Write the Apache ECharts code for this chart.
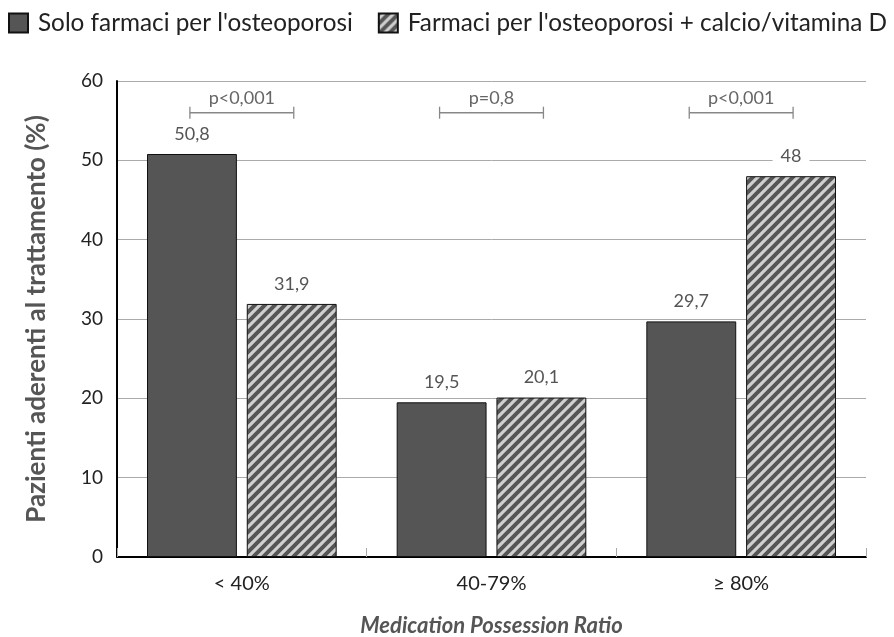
<!DOCTYPE html>
<html><head><meta charset="utf-8">
<script src="https://cdn.jsdelivr.net/npm/echarts@6/dist/echarts.min.js"></script>
<style>html,body{margin:0;padding:0;background:#fff}#c{width:894px;height:637px}</style>
</head><body><div id="c"></div>
<script>
var categories = ['< 40%', '40-79%', '≥ 80%'];
var soloFarmaci = [50.8, 19.5, 29.7];
var farmaciCalcio = [31.9, 20.1, 48];
var pValues = ['p<0,001', 'p=0,8', 'p<0,001'];
var bracketLevel = 56.0;
var seriesNames = ["Solo farmaci per l'osteoporosi", "Farmaci per l'osteoporosi + calcio/vitamina D"];

function hatch() {
  var s = 10, c = document.createElement('canvas');
  c.width = s; c.height = s;
  var g = c.getContext('2d');
  g.fillStyle = '#d0d0d0'; g.fillRect(0, 0, s, s);
  g.strokeStyle = '#555555'; g.lineWidth = 4;
  g.beginPath();
  g.moveTo(-s, s); g.lineTo(s, -s);
  g.moveTo(0, s * 2); g.lineTo(s * 2, 0);
  g.moveTo(-s, 2 * s); g.lineTo(2 * s, -s);
  g.stroke();
  return c;
}
var fmt = function (p) { return String(p.value).replace('.', ','); };
var chart = echarts.init(document.getElementById('c'));
var labelCfg = {
  show: true, position: 'top', distance: 10, formatter: fmt,
  color: '#555', fontFamily: 'Lato', fontSize: 18,
  backgroundColor: '#fff', padding: [1, 8]
};
chart.setOption({
  animation: false,
  textStyle: { fontFamily: 'Lato' },
  legend: {
    left: 3, top: 6, itemWidth: 19, itemHeight: 19, itemGap: 25, icon: 'rect',
    textStyle: { fontFamily: 'Lato', fontSize: 24.3, color: '#222', padding: [0, 0, 0, 5] },
    data: seriesNames
  },
  grid: { left: 117, right: 28, top: 81, bottom: 80, outerBoundsMode: 'none', containLabel: false },
  xAxis: {
    type: 'category', data: categories,
    axisLine: { lineStyle: { color: '#000', width: 2 } },
    axisTick: { show: true, inside: true, length: 9, lineStyle: { color: '#aaa' } },
    axisLabel: { color: '#222', fontSize: 20, margin: 17, fontFamily: 'Lato' },
    name: 'Medication Possession Ratio', nameLocation: 'middle', nameGap: 58,
    nameTextStyle: { fontFamily: 'Lato', fontSize: 22, fontWeight: 'bold', fontStyle: 'italic', color: '#555' }
  },
  yAxis: {
    type: 'value', min: 0, max: 60, interval: 10,
    axisLine: { show: true, lineStyle: { color: '#000', width: 2 } },
    axisTick: { show: false },
    splitLine: { lineStyle: { color: '#aaa', width: 1 } },
    axisLabel: { color: '#222', fontSize: 19, margin: 14, fontFamily: 'Lato' },
    name: 'Pazienti aderenti al trattamento (%)', nameLocation: 'middle', nameGap: 67,
    nameTextStyle: { fontFamily: 'Lato', fontSize: 26, fontWeight: 'bold', color: '#555' }
  },
  series: [
    {
      name: seriesNames[0], type: 'bar', data: soloFarmaci, barWidth: '36%', barGap: '11%',
      itemStyle: { color: '#555555', borderColor: '#111', borderWidth: 1 },
      label: labelCfg
    },
    {
      name: seriesNames[1], type: 'bar', data: farmaciCalcio, barWidth: '36%', barGap: '11%',
      itemStyle: { color: { image: hatch(), repeat: 'repeat' }, borderColor: '#111', borderWidth: 1 },
      label: labelCfg
    },
    {
      type: 'custom', silent: true, z: 5,
      data: pValues.map(function (p, i) { return [i, bracketLevel]; }),
      renderItem: function (params, api) {
        var pt = api.coord([api.value(0), api.value(1)]);
        var band = api.size([1, 0])[0];
        var h = band * 0.208;
        var ls = { stroke: '#888', lineWidth: 1.3 };
        return {
          type: 'group', children: [
            { type: 'line', shape: { x1: pt[0] - h, y1: pt[1], x2: pt[0] + h, y2: pt[1] }, style: ls },
            { type: 'line', shape: { x1: pt[0] - h, y1: pt[1] - 6, x2: pt[0] - h, y2: pt[1] + 6 }, style: ls },
            { type: 'line', shape: { x1: pt[0] + h, y1: pt[1] - 6, x2: pt[0] + h, y2: pt[1] + 6 }, style: ls },
            { type: 'text', x: pt[0], y: pt[1] - 15,
              style: { text: pValues[params.dataIndex], fill: '#666', font: '18px Lato', align: 'center', verticalAlign: 'middle' } }
          ]
        };
      }
    }
  ]
});
</script></body></html>
